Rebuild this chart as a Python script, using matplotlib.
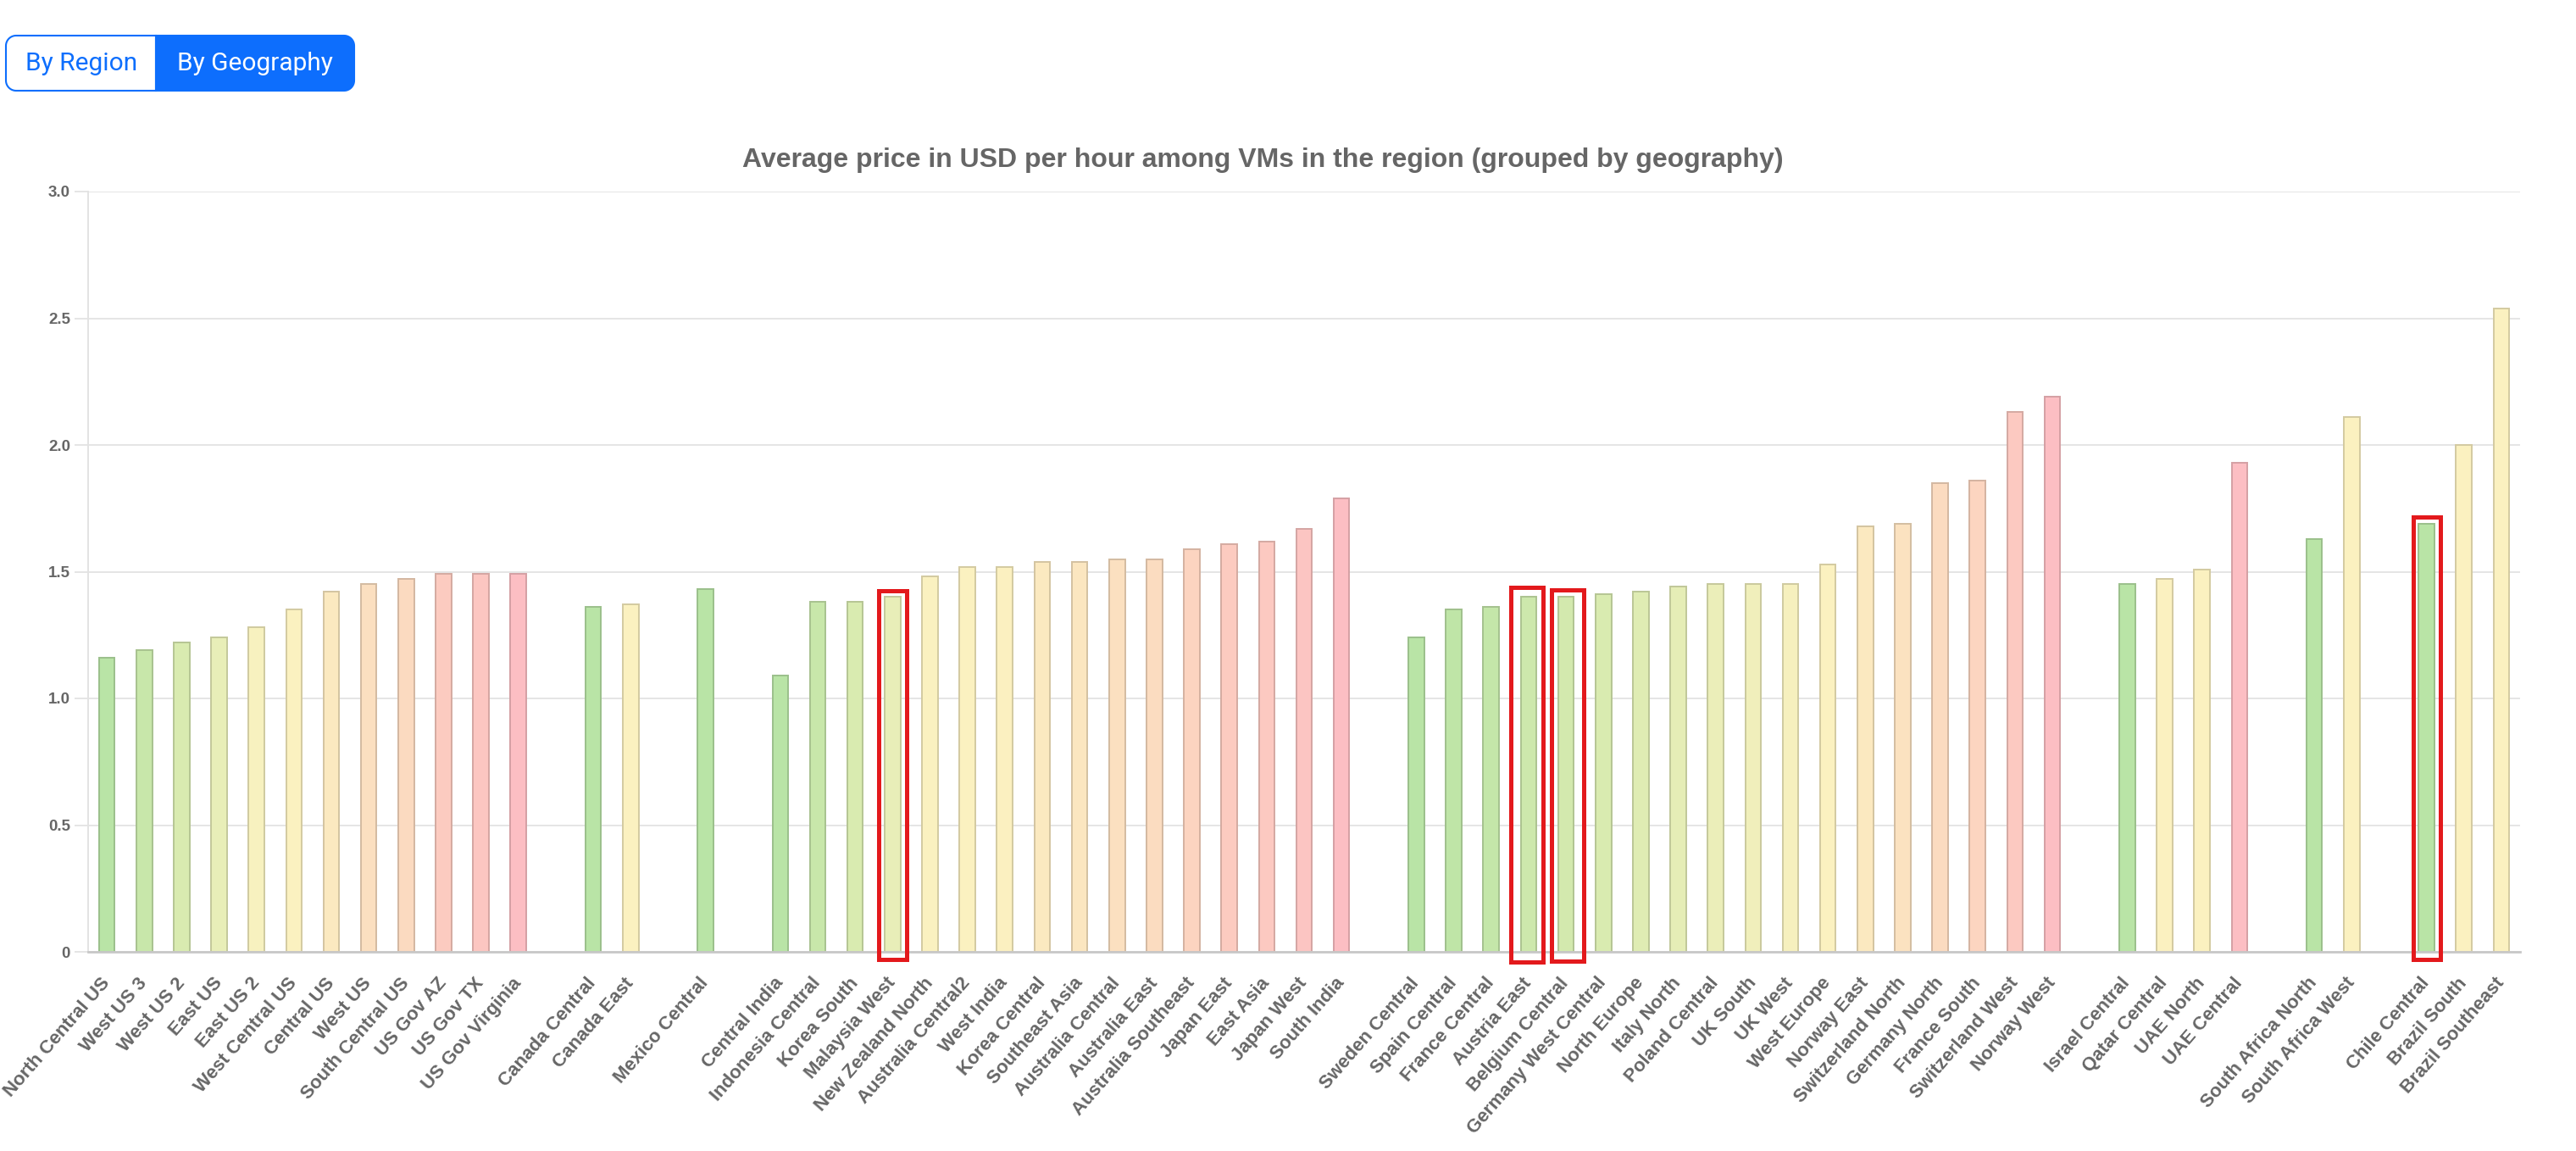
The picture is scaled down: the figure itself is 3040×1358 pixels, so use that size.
import numpy as np
import matplotlib
matplotlib.use("Agg")
import matplotlib.pyplot as plt
from matplotlib.patches import Rectangle, PathPatch
from matplotlib.path import Path

# ---------------- data ----------------
us_names = ["North Central US", "West US 3", "West US 2", "East US", "East US 2",
            "West Central US", "Central US", "West US", "South Central US",
            "US Gov AZ", "US Gov TX", "US Gov Virginia"]
us_prices = [1.16, 1.19, 1.22, 1.24, 1.28, 1.35, 1.42, 1.45, 1.47, 1.49, 1.49, 1.49]

canada_names = ["Canada Central", "Canada East"]
canada_prices = [1.36, 1.37]

mexico_names = ["Mexico Central"]
mexico_prices = [1.43]

apac_names = ["Central India", "Indonesia Central", "Korea South", "Malaysia West",
              "New Zealand North", "Australia Central2", "West India", "Korea Central",
              "Southeast Asia", "Australia Central", "Australia East",
              "Australia Southeast", "Japan East", "East Asia", "Japan West", "South India"]
apac_prices = [1.09, 1.38, 1.38, 1.40, 1.48, 1.52, 1.52, 1.54, 1.54, 1.55, 1.55,
               1.59, 1.61, 1.62, 1.67, 1.79]

europe_names = ["Sweden Central", "Spain Central", "France Central", "Austria East",
                "Belgium Central", "Germany West Central", "North Europe", "Italy North",
                "Poland Central", "UK South", "UK West", "West Europe", "Norway East",
                "Switzerland North", "Germany North", "France South", "Switzerland West",
                "Norway West"]
europe_prices = [1.24, 1.35, 1.36, 1.40, 1.40, 1.41, 1.42, 1.44, 1.45, 1.45, 1.45,
                 1.53, 1.68, 1.69, 1.85, 1.86, 2.13, 2.19]

me_names = ["Israel Central", "Qatar Central", "UAE North", "UAE Central"]
me_prices = [1.45, 1.47, 1.51, 1.93]

africa_names = ["South Africa North", "South Africa West"]
africa_prices = [1.63, 2.11]

samerica_names = ["Chile Central", "Brazil South", "Brazil Southeast"]
samerica_prices = [1.69, 2.00, 2.54]

highlighted = ["Malaysia West", "Austria East", "Belgium Central", "Chile Central"]

# ---------------- colours (per bar) ----------------
us_colors = ["#b9e4a6", "#c8e7aa", "#d9ebb0", "#e8eeb8", "#f7f1bf", "#fbf1c0",
             "#fbe9c0", "#fbdfc0", "#fbdac0", "#fccbc0", "#fcc6c1", "#fcbec3"]
canada_colors = ["#b9e4a6", "#fbf1c0"]
mexico_colors = ["#b9e4a6"]
apac_colors = ["#b9e4a6", "#c8e7aa", "#d9ebb0", "#e8eeb8", "#faf1c0", "#fbf1c0",
               "#fbf0c0", "#fbe9c0", "#fbe6c0", "#fbe0c0", "#fbdcc0", "#fcd4c0",
               "#fccbc0", "#fcc9c1", "#fcc5c2", "#fcbec3"]
europe_colors = ["#b9e4a6", "#bfe5a7", "#c4e6a9", "#cde8ac", "#d3e9ae", "#d9ebb0",
                 "#dfecb3", "#e5edb6", "#ebeeb9", "#f0efbb", "#f6f0be", "#fbf1c0",
                 "#fbe9c0", "#fbe2c0", "#fbdbc0", "#fcd5c0", "#fcc9c1", "#fcbec3"]
me_colors = ["#b9e4a6", "#fbf1c0", "#fbf1c0", "#fcbec3"]
africa_colors = ["#b9e4a6", "#fbf1c0"]
samerica_colors = ["#b9e4a6", "#fbf1c0", "#fbf1c0"]

groups = [
    (us_names, us_prices, us_colors),
    (canada_names, canada_prices, canada_colors),
    (mexico_names, mexico_prices, mexico_colors),
    (apac_names, apac_prices, apac_colors),
    (europe_names, europe_prices, europe_colors),
    (me_names, me_prices, me_colors),
    (africa_names, africa_prices, africa_colors),
    (samerica_names, samerica_prices, samerica_colors),
]

names, vals, xs, fills = [], [], [], []
pos = 0
for gi, (gn, gv, gc) in enumerate(groups):
    if gi > 0:
        pos += 1  # empty slot between geographies
    for n, v, c in zip(gn, gv, gc):
        names.append(n)
        vals.append(v)
        fills.append(c)
        xs.append(pos)
        pos += 1
nslots = pos


def darker(hexcol, f=0.84):
    r, g, b = matplotlib.colors.to_rgb(hexcol)
    return (r * f, g * f, b * f)


edges = [darker(c) for c in fills]

# ---------------- figure ----------------
W, H = 3040, 1358
fig = plt.figure(figsize=(W / 100, H / 100), dpi=100)
fig.patch.set_facecolor("white")

L, R, T, B = 104, 2974, 226, 1123
ax = fig.add_axes([L / W, 1 - B / H, (R - L) / W, (B - T) / H])

ax.bar(xs, vals, width=0.42, color=fills, edgecolor=edges, linewidth=1.4, zorder=3)

ax.set_xlim(-0.5, nslots - 0.5)
ax.set_ylim(0, 3.0)
yt = [0, 0.5, 1.0, 1.5, 2.0, 2.5, 3.0]
ax.set_yticks(yt)
ax.set_yticklabels(["0", "0.5", "1.0", "1.5", "2.0", "2.5", "3.0"],
                   fontfamily="Liberation Sans", fontweight="bold")
ax.grid(axis="y", color="#e5e5e5", linewidth=1.4, zorder=0)
ax.set_axisbelow(True)
for s in ["top", "right"]:
    ax.spines[s].set_visible(False)
ax.spines["left"].set_color("#e3e3e3")
ax.spines["left"].set_linewidth(1.4)
ax.spines["bottom"].set_color("#c8c8c8")
ax.spines["bottom"].set_linewidth(2.0)
ax.spines["bottom"].set_zorder(4)
ax.tick_params(axis="y", length=11.5, width=1.4, color="#e5e5e5", pad=3.6,
               labelsize=13.5, labelcolor="#666666")

ax.set_xticks(xs)
ax.set_xticklabels(names, rotation=49, ha="right", va="center",
                   rotation_mode="anchor", fontsize=16, fontweight="bold",
                   color="#666666", fontfamily="Liberation Sans")
ax.tick_params(axis="x", length=0, pad=24)

# red highlight boxes (annotations)
box_geom = {  # width (slots), top offset over value, bottom, x shift
    "Malaysia West": (0.74, 0.025, -0.030, 0.0),
    "Austria East": (0.86, 0.037, -0.041, -0.05),
    "Belgium Central": (0.86, 0.028, -0.037, 0.04),
    "Chile Central": (0.72, 0.025, -0.030, 0.0),
}
for nm in highlighted:
    i = names.index(nm)
    w, top, bot, dx = box_geom[nm]
    x0 = xs[i] - w / 2 + dx
    ax.add_patch(Rectangle((x0, bot), w, vals[i] + top - bot, fill=False,
                           edgecolor="#e3191c", linewidth=3.6, clip_on=False,
                           zorder=6))

# ---------------- overlay: title and buttons ----------------
ui = fig.add_axes([0, 0, 1, 1], zorder=-1)
ui.set_xlim(0, W)
ui.set_ylim(H, 0)
ui.axis("off")

ui.text(1490, 197, "Average price in USD per hour among VMs in the region (grouped by geography)",
        ha="center", va="baseline", fontsize=23, fontweight="bold", color="#666666",
        fontfamily="Liberation Sans")


def rounded_path(x0, y0, x1, y1, r, round_left, round_right):
    pts = []

    def arc(cx, cy, a0, a1):
        t = np.radians(np.linspace(a0, a1, 14))
        return list(zip(cx + r * np.cos(t), cy + r * np.sin(t)))

    if round_left:
        pts += arc(x0 + r, y0 + r, 180, 270)
    else:
        pts.append((x0, y0))
    if round_right:
        pts += arc(x1 - r, y0 + r, 270, 360)
        pts += arc(x1 - r, y1 - r, 0, 90)
    else:
        pts += [(x1, y0), (x1, y1)]
    if round_left:
        pts += arc(x0 + r, y1 - r, 90, 180)
    else:
        pts.append((x0, y1))
    pts.append(pts[0])
    codes = [Path.MOVETO] + [Path.LINETO] * (len(pts) - 2) + [Path.CLOSEPOLY]
    return Path(pts, codes)


blue = "#0d6efd"
ui.add_patch(PathPatch(rounded_path(7, 42, 184, 107, 12, True, False),
                       facecolor="white", edgecolor=blue, linewidth=1.5))
ui.add_patch(PathPatch(rounded_path(184, 42, 418, 107, 12, False, True),
                       facecolor=blue, edgecolor=blue, linewidth=1.5))
ui.text(96, 75, "By Region", ha="center", va="center", fontsize=21.5,
        color=blue, fontfamily="Roboto")
ui.text(301, 75, "By Geography", ha="center", va="center", fontsize=21.5,
        color="white", fontfamily="Roboto")

fig.savefig("out.png", dpi=100, facecolor="white")
